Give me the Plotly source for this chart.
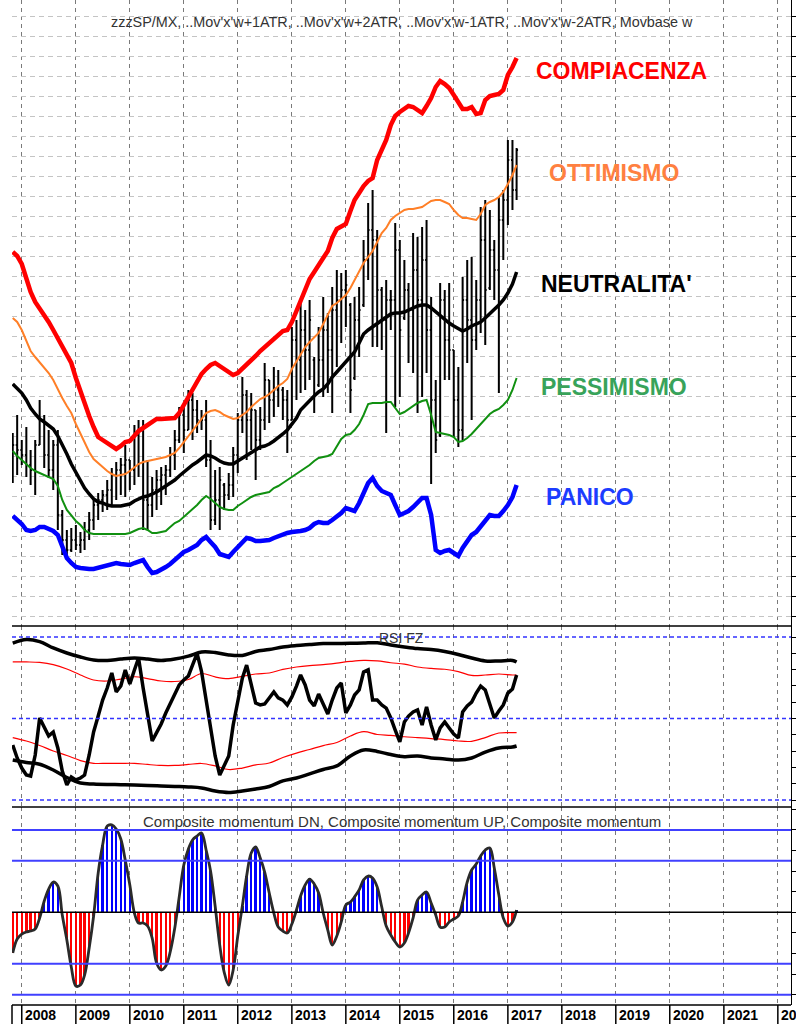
import pandas as pd
import plotly.graph_objects as go

# ---------------- data (monthly, Nov 2007 .. Mar 2017) ----------------
dates = pd.date_range("2007-11-01", periods=113, freq="MS")

bar_open = [156,171,166,161,151,146,171,196,161,146,
            171,101,76,66,76,71,76,86,96,111,
            116,121,126,141,146,151,156,146,181,186,
            116,111,126,136,141,146,161,176,201,186,
            216,206,196,196,156,96,116,131,121,131,
            161,196,221,196,206,176,196,236,216,226,
            226,216,196,276,256,286,266,256,231,256,
            286,266,306,316,326,311,238,296,311,356,
            386,376,326,296,316,316,366,298,326,306,
            346,316,356,286,216,181,316,276,266,216,
            186,316,296,276,316,376,328,366,346,396,
            416,456,426]
bar_high = [183,201,176,189,166,176,216,201,186,176,
            186,106,86,88,91,84,94,104,116,123,
            126,136,148,154,158,171,156,191,196,196,
            156,139,146,149,151,169,186,209,209,226,
            223,216,206,216,176,146,149,133,143,169,
            203,239,226,223,206,209,253,236,249,246,
            229,226,289,296,313,306,316,259,289,319,
            303,329,346,343,346,313,319,329,376,413,
            426,386,329,336,326,393,376,356,333,383,
            379,389,396,319,236,333,326,333,266,249,
            339,356,359,336,409,416,406,376,419,426,
            476,476,468]
bar_low = [133,141,151,139,131,121,171,148,138,126,
           86,61,56,64,66,63,66,76,86,96,
           104,106,111,116,121,119,126,131,139,86,
           86,99,106,111,121,139,146,173,163,186,
           176,183,186,149,86,91,86,106,116,119,
           143,183,156,166,136,166,186,193,199,209,
           196,163,196,216,223,226,236,203,229,219,
           223,203,249,273,289,203,236,259,309,336,
           269,269,266,183,286,209,219,296,253,243,
           203,219,243,132,163,179,236,236,179,169,
           176,253,196,266,283,271,326,316,223,356,
           391,406,416]
bar_close = [171,166,161,151,146,171,196,161,146,171,
             101,76,66,76,71,76,86,96,111,116,
             121,126,141,146,151,156,146,181,186,116,
             111,126,136,141,146,161,176,201,186,216,
             206,196,196,156,96,116,136,121,131,161,
             196,221,196,206,176,196,236,216,226,231,
             216,196,276,256,286,266,296,221,256,286,
             266,306,316,326,331,226,296,306,356,386,
             376,326,296,316,316,366,286,326,306,346,
             316,356,286,216,176,316,276,266,216,186,
             316,296,276,316,376,326,366,346,396,416,
             456,426,466]

band_plus2 = [364,360,352,336,324,314,308,301,294,286,
              278,269,261,253,238,224,212,200,189,179,
              176,173,170,167,170,174,175,180,185,188,
              191,194,197,197,197,197,198,203,211,220,
              228,235,242,247,251,253,250,246,244,241,
              243,247,251,256,260,265,269,273,276,281,
              285,286,294,305,316,328,337,344,350,358,
              365,378,387,389,392,405,416,423,430,435,
              438,456,466,476,491,500,504,507,510,509,
              506,503,510,518,529,535,532,528,521,514,
              507,507,509,502,503,516,520,521,522,526,
              541,549,558]
band_plus1 = [298,294,286,276,265,259,254,249,243,236,
              226,218,210,203,192,182,173,164,157,153,
              149,145,142,140,141,142,145,149,152,154,
              155,156,157,158,159,161,163,168,174,180,
              186,192,198,203,205,206,204,201,199,197,
              198,201,204,209,213,217,219,222,226,230,
              233,237,247,255,262,269,274,279,283,292,
              302,310,313,317,321,328,336,344,353,359,
              365,374,383,388,396,400,403,406,407,407,
              408,409,412,415,416,416,414,412,406,401,
              398,398,397,396,402,411,414,416,419,424,
              432,441,451]
movbase = [232,227,223,216,208,202,197,194,191,187,
           180,172,162,152,144,135,128,122,117,114,
           113,111,110,110,110,111,112,115,117,119,
           120,122,124,127,130,133,136,140,144,147,
           151,154,158,161,160,158,155,153,152,152,
           155,158,161,164,167,169,170,172,175,178,
           182,186,192,198,206,211,216,220,224,227,
           232,239,244,249,254,259,264,273,282,286,
           289,292,296,299,302,303,303,304,306,308,
           310,311,311,308,304,300,297,293,290,287,
           285,287,290,292,294,298,302,306,311,316,
           323,332,344]
band_minus1 = [165,160,156,152,148,145,143,141,139,137,
               130,116,106,100,95,91,86,83,82,82,
               82,82,82,82,82,82,83,85,87,88,
               86,83,83,84,85,89,93,95,99,103,
               107,111,116,120,117,113,109,107,106,106,
               110,113,116,119,121,122,123,124,128,130,
               133,136,139,142,145,148,151,155,158,159,
               160,162,169,177,181,182,186,192,201,212,
               213,213,213,214,214,208,202,204,207,210,
               213,215,216,201,184,183,182,181,179,174,
               175,178,182,187,192,197,202,205,207,211,
               216,226,238]
band_minus2 = [100,96,92,86,85,86,89,89,87,85,
               81,69,58,53,49,48,47,47,47,48,
               50,51,52,53,52,51,51,53,55,56,
               49,43,44,46,49,52,56,60,64,66,
               68,71,76,79,74,69,62,60,59,64,
               69,74,78,77,75,75,75,76,78,80,
               82,83,84,84,85,86,88,92,94,93,
               93,96,99,103,108,106,105,113,123,133,
               138,130,125,123,121,111,101,103,105,109,
               114,118,118,101,66,63,65,66,63,60,
               68,74,81,84,89,95,101,100,100,105,
               111,119,131]

rsi_fz = [33.7,25.8,19.6,15.3,14.7,27.6,50.3,44.2,39.3,41.7,
          31.9,17.8,9.2,14.1,12.3,13.5,15.3,27.6,41.7,51.5,
          61.3,68.7,77.9,66.3,69.9,79.8,71.2,79.8,87.1,68.7,
          51.5,36.2,41.3,46.6,53.4,59.5,65.0,70.6,73.6,76.1,
          82.8,90.0,78.8,61.3,45.4,27.0,15.3,20.9,27.0,46.0,
          61.3,74.8,82.8,71.2,59.5,58.3,58.9,62.6,66.3,62.6,
          61.3,58.3,63.2,69.9,76.7,70.6,61.3,57.7,65.0,58.9,
          52.8,61.3,68.7,71.8,53.4,58.3,64.4,67.5,78.5,79.8,
          61.3,61.3,58.3,56.4,50.3,42.9,35.6,47.9,51.5,54.0,
          55.2,46.0,57.1,46.0,36.8,44.2,47.9,44.2,40.5,38.0,
          54.0,57.7,60.1,65.6,69.9,67.5,58.9,50.3,54.6,58.3,
          65.6,68.1,76.7]

# RSI envelopes, sampled quarterly (every 3rd month plus the last one)
q_idx = list(range(0, 113, 3)) + [112]
rsi_up_outer = [96.3,98.5,97.2,93.3,90.2,87.7,85.9,85.6,86.5,87.1,
                86.5,85.6,86.5,88.3,90.8,90.5,89.0,88.7,91.1,92.3,
                93.9,94.8,95.4,96.0,96.0,96.1,96.3,96.5,95.1,93.9,
                92.9,92.3,91.1,89.3,87.1,85.3,85.3,85.6,84.7]
rsi_up_inner = [84.8,84.7,84.4,83.1,80.4,76.7,73.6,73.0,74.2,75.6,
                74.5,73.0,72.7,73.9,77.6,75.5,74.5,75.8,77.3,77.9,
                80.1,81.6,82.5,83.1,84.0,85.0,85.6,85.3,84.2,83.4,
                81.6,80.7,80.2,78.8,76.4,76.7,77.3,76.7,76.7]
rsi_lo_inner = [38.3,36.2,33.4,30.1,27.3,24.2,22.5,22.5,22.5,22.5,
                21.8,21.2,21.2,21.8,22.4,20.9,18.7,19.6,21.5,22.7,
                26.1,28.8,31.0,33.4,35.3,39.3,41.9,40.2,39.6,38.8,
                38.3,37.7,37.1,36.2,36.0,38.3,41.1,41.3,41.3]
rsi_lo_outer = [24.5,23.0,21.9,18.4,13.8,10.4,9.8,9.5,9.4,9.2,
                8.9,8.6,8.3,8.0,7.4,5.5,4.6,5.5,6.7,8.3,
                11.7,13.5,16.0,18.7,20.9,27.0,30.7,29.8,27.9,26.6,
                27.0,25.8,25.2,24.5,25.8,29.4,31.9,32.5,33.1]

composite_momentum = [-39.5,-25.9,-21.1,-19.1,-18.2,-16.2,-5.5,11.0,22.6,29.4,
                      25.5,-2.6,-26.9,-53.1,-71.6,-70.6,-60.9,-34.7,-3.6,38.2,
                      65.3,83.8,84.8,80.9,71.2,50.8,26.5,-0.7,-10.4,-10.4,
                      -13.3,-25.0,-49.2,-56.0,-52.1,-38.5,-15.2,14.9,45.9,61.5,
                      70.2,74.1,77.0,60.5,40.1,6.1,-31.8,-58.0,-70.6,-56.0,
                      -23.0,6.1,35.2,57.6,63.4,52.7,39.1,18.7,-0.7,-14.3,
                      -18.2,-20.1,-11.4,2.2,15.8,26.5,32.3,27.5,18.7,-0.7,
                      -17.2,-31.8,-23.0,-9.4,7.1,10.0,14.9,21.7,31.4,35.2,
                      33.3,24.6,5.1,-13.3,-22.0,-28.8,-33.7,-29.8,-20.1,-5.5,
                      11.9,16.8,19.7,9.0,-2.6,-14.3,-14.3,-9.4,-6.5,-3.6,
                      10.0,29.4,41.1,46.9,54.7,60.5,62.4,43.0,16.8,-5.5,
                      -13.3,-9.4,2.2]

years = list(range(2008, 2023))
year_labels = [str(y) for y in years[:-1]] + ["20"]
zone_labels = ["COMPIACENZA", "OTTIMISMO", "NEUTRALITA'", "PESSIMISMO", "PANICO"]

for arr in (bar_open, bar_high, bar_low, bar_close, band_plus2, band_plus1, movbase,
            band_minus1, band_minus2, rsi_fz, composite_momentum):
    assert len(arr) == len(dates), len(arr)
for arr in (rsi_up_outer, rsi_up_inner, rsi_lo_inner, rsi_lo_outer):
    assert len(arr) == len(q_idx), len(arr)

qdates = dates[q_idx]

# ---------------- layout geometry ----------------
W, H = 796, 1024
ML, MR, MT, MB = 12, 5, 0, 19
PH = H - MT - MB  # 1005


def py(pix):
    return (PH - pix) / PH


x_start = pd.Timestamp("2007-10-27")
x_end = pd.Timestamp("2022-03-31")


def px_date(d):
    return (pd.Timestamp(d) - x_start) / (x_end - x_start)


main_dom = [py(626), 1.0]
rsi_dom = [py(807), py(626)]
mom_dom = [0.0, py(807)]

FONT = "Liberation Sans, Arial, sans-serif"

fig = go.Figure()

# ---------- main panel ----------
fig.add_trace(go.Ohlc(
    x=dates, open=bar_open, high=bar_high, low=bar_low, close=bar_close,
    increasing=dict(line=dict(color="black", width=2)),
    decreasing=dict(line=dict(color="black", width=2)),
    tickwidth=0.35, xaxis="x", yaxis="y", showlegend=False, hoverinfo="skip"))

line_specs = [
    (band_plus2, "#ff0000", 4.5),
    (band_plus1, "#ff7f27", 2),
    (movbase, "#000000", 3.5),
    (band_minus1, "#109010", 2),
    (band_minus2, "#0000ff", 4.5),
]
for vals, col, wd in line_specs:
    fig.add_trace(go.Scatter(x=dates, y=vals, mode="lines",
                             line=dict(color=col, width=wd),
                             xaxis="x", yaxis="y", showlegend=False, hoverinfo="skip"))

# ---------- RSI panel ----------
for vals, col, wd in [(rsi_up_outer, "black", 3.5), (rsi_up_inner, "#ff0000", 1.2),
                      (rsi_lo_inner, "#ff0000", 1.2), (rsi_lo_outer, "black", 3.5)]:
    fig.add_trace(go.Scatter(x=qdates, y=vals, mode="lines", line=dict(color=col, width=wd, shape="spline"),
                             xaxis="x2", yaxis="y2", showlegend=False, hoverinfo="skip"))
fig.add_trace(go.Scatter(x=dates, y=rsi_fz, mode="lines", line=dict(color="black", width=3.5),
                         xaxis="x2", yaxis="y2", showlegend=False, hoverinfo="skip"))

# ---------- momentum panel ----------
up_x = [d for d, v in zip(dates, composite_momentum) if v >= 0]
up_y = [v for v in composite_momentum if v >= 0]
dn_x = [d for d, v in zip(dates, composite_momentum) if v < 0]
dn_y = [v for v in composite_momentum if v < 0]
bar_w = 16 * 24 * 3600 * 1000
fig.add_trace(go.Bar(x=dn_x, y=dn_y, marker=dict(color="#ff0000", line=dict(width=0)),
                     width=bar_w, xaxis="x3", yaxis="y3", showlegend=False, hoverinfo="skip"))
fig.add_trace(go.Bar(x=up_x, y=up_y, marker=dict(color="#0000ff", line=dict(width=0)),
                     width=bar_w, xaxis="x3", yaxis="y3", showlegend=False, hoverinfo="skip"))
fig.add_trace(go.Scatter(x=dates, y=composite_momentum, mode="lines",
                         line=dict(color="#2a2a2a", width=2.8, shape="spline"),
                         xaxis="x3", yaxis="y3", showlegend=False, hoverinfo="skip"))

# ---------- axes ----------
year_ticks = [pd.Timestamp(f"{y}-01-01") for y in years]
xcommon = dict(type="date", range=[x_start, x_end], tickvals=year_ticks, showticklabels=False,
               showgrid=True, gridcolor="#7a7a7a", gridwidth=1, griddash="4px,4px",
               zeroline=False, showline=False, ticks="")
ycommon = dict(side="right", showline=True, linecolor="black", linewidth=1, ticks="outside",
               ticklen=4, tickcolor="black", showticklabels=False, zeroline=False)

fig.update_layout(
    width=W, height=H, margin=dict(l=ML, r=MR, t=MT, b=MB, autoexpand=False),
    paper_bgcolor="white", plot_bgcolor="white", barmode="overlay", bargap=0,
    font=dict(family=FONT, color="#333333"),
    xaxis=dict(**xcommon, domain=[0, 1], anchor="y", rangeslider=dict(visible=False)),
    xaxis2=dict(**xcommon, domain=[0, 1], anchor="y2", matches="x"),
    xaxis3=dict(**xcommon, domain=[0, 1], anchor="y3", matches="x"),
    yaxis=dict(**ycommon, domain=main_dom, range=[616 - 626, 616], anchor="x",
               tickvals=list(range(0, 601, 20)), showgrid=True, gridcolor="#c4c4c4",
               gridwidth=1, griddash="5px,4px"),
    yaxis2=dict(**ycommon, domain=rsi_dom, range=[(800 - 807) / 1.63, (800 - 626) / 1.63],
                anchor="x2", tickvals=list(range(0, 101, 10)), showgrid=False),
    yaxis3=dict(**ycommon, domain=mom_dom, range=[(912.3 - 1005) * 0.971, (912.3 - 807) * 0.971],
                anchor="x3", tickvals=list(range(-80, 101, 20)), showgrid=False),
)

shapes = []
# panel separators
for pix in (626, 807, 1005):
    shapes.append(dict(type="line", xref="paper", yref="paper", x0=0, x1=1, y0=py(pix), y1=py(pix),
                       line=dict(color="black", width=1.5)))
# RSI dashed levels
for lvl in (0, 50, 100):
    shapes.append(dict(type="line", xref="paper", yref="y2", x0=0, x1=1, y0=lvl, y1=lvl,
                       line=dict(color="#3333ff", width=1.5, dash="4px,3px")))
# momentum levels
for lvl in (-80, -50, 50, 80):
    shapes.append(dict(type="line", xref="paper", yref="y3", x0=0, x1=1, y0=lvl, y1=lvl,
                       line=dict(color="#4040ff", width=2)))
shapes.append(dict(type="line", xref="paper", yref="y3", x0=0, x1=1, y0=0, y1=0,
                   line=dict(color="black", width=1.5)))
# year separators in label strip
shapes.append(dict(type="line", xref="paper", yref="paper", x0=0, x1=0, y0=0, y1=py(1024),
                   line=dict(color="black", width=1.5)))
for y in years:
    xp = px_date(f"{y}-01-01")
    shapes.append(dict(type="line", xref="paper", yref="paper", x0=xp, x1=xp, y0=0, y1=py(1024),
                       line=dict(color="black", width=1.5)))
fig.update_layout(shapes=shapes)

ann = []
ann.append(dict(text="zzzSP/MX, ..Mov'x'w+1ATR, ..Mov'x'w+2ATR, ..Mov'x'w-1ATR, ..Mov'x'w-2ATR, Movbase w",
                xref="paper", yref="paper", x=0.5, y=py(22), showarrow=False,
                xanchor="center", yanchor="middle", font=dict(size=14.4, color="#333333")))
ann.append(dict(text="RSI FZ", xref="paper", yref="paper", x=0.5, y=py(637.5), showarrow=False,
                xanchor="center", yanchor="middle", font=dict(size=14, color="#333333")))
ann.append(dict(text="Composite momentum DN, Composite momentum UP, Composite momentum",
                xref="paper", yref="paper", x=0.5, y=py(821.5), showarrow=False,
                xanchor="center", yanchor="middle", font=dict(size=15, color="#333333")))

zone_pos = [(621, 71, "#ff0000"), (614, 173, "#ff8040"), (616, 284, "#000000"),
            (614, 387, "#38a35a"), (590, 497, "#1c3cff")]
for txt, (xc, yc, col) in zip(zone_labels, zone_pos):
    ann.append(dict(text=f"<b>{txt}</b>", xref="paper", yref="paper", x=(xc - ML) / (W - ML - MR),
                    y=py(yc), showarrow=False, xanchor="center", yanchor="middle",
                    font=dict(size=23, color=col)))

for y, lab in zip(years, year_labels):
    ann.append(dict(text=f"<b>{lab}</b>", xref="paper", yref="paper", x=px_date(f"{y}-01-01"),
                    y=py(1015), xshift=1, showarrow=False, xanchor="left", yanchor="middle",
                    font=dict(size=14, color="black")))
fig.update_layout(annotations=ann)

fig.write_html("out.html", config={"displayModeBar": False},
               post_script="document.body.style.margin='0';document.body.style.overflow='hidden';")
